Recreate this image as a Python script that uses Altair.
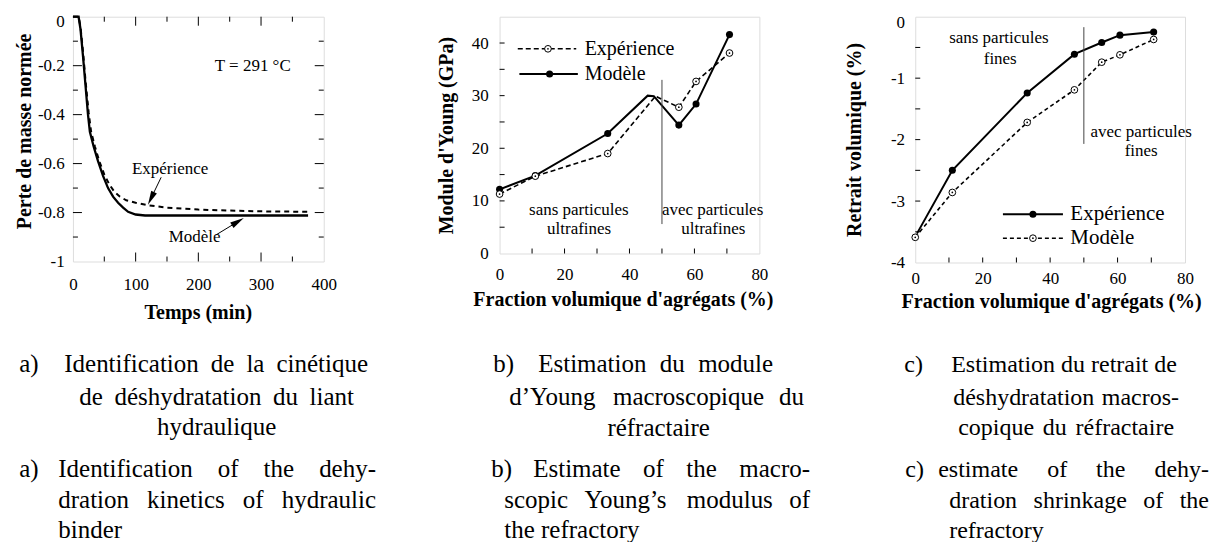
import altair as alt
import pandas as pd

FONT = "Liberation Serif"

# ---------------- panel a : dehydration kinetics ----------------
a_exp_t = [0, 9, 12, 16, 20, 25, 29, 35, 42, 50, 58, 66, 75, 85, 100, 120, 150, 200, 250, 300, 375]
a_exp_v = [0, 0, -0.04, -0.14, -0.26, -0.39, -0.47, -0.53, -0.59, -0.645, -0.685, -0.715,
           -0.735, -0.75, -0.76, -0.77, -0.78, -0.788, -0.792, -0.795, -0.797]
a_mod_t = [0, 9, 12, 16, 20, 24, 27, 33, 40, 48, 56, 64, 72, 80, 88, 100, 115, 375]
a_mod_v = [0, 0, -0.05, -0.16, -0.28, -0.40, -0.47, -0.53, -0.59, -0.65, -0.70, -0.735,
           -0.76, -0.78, -0.797, -0.808, -0.812, -0.812]
a_x_ticks = [0, 100, 200, 300, 400]
a_x_labels = ["0", "100", "200", "300", "400"]
a_y_ticks = [0, -0.2, -0.4, -0.6, -0.8, -1]
a_y_labels = ["0", "-0.2", "-0.4", "-0.6", "-0.8", "-1"]
a_x_major = [100, 200, 300]
a_x_minor = [50, 150, 250, 350]
a_y_major = [-0.2, -0.4, -0.6, -0.8]
a_y_minor = [-0.1, -0.3, -0.5, -0.7, -0.9]

# ---------------- panel b : Young's modulus ----------------
b_exp_x = [0, 11, 33.3, 48, 55.2, 60.5, 70.8]
b_exp_y = [11.3, 14.7, 19.0, 29.9, 27.8, 32.7, 38.1]
b_exp_px = [0, 11, 33.3, 55.2, 60.5, 70.8]
b_exp_py = [11.3, 14.7, 19.0, 27.8, 32.7, 38.1]
b_mod_x = [0, 11, 33.3, 45.6, 47.5, 55.2, 60.5, 70.8]
b_mod_y = [12.2, 14.8, 22.8, 30.0, 29.9, 24.4, 28.4, 41.6]
b_mod_px = [0, 11, 33.3, 55.2, 60.5, 70.8]
b_mod_py = [12.2, 14.8, 22.8, 24.4, 28.4, 41.6]
b_x_ticks = [0, 20, 40, 60, 80]
b_x_labels = ["0", "20", "40", "60", "80"]
b_y_ticks = [0, 10, 20, 30, 40]
b_y_labels = ["0", "10", "20", "30", "40"]
b_x_minor = [10, 20, 30, 40, 50, 60, 70]
b_y_minor = [5, 10, 15, 20, 25, 30, 35, 40]

# ---------------- panel c : volumetric shrinkage ----------------
c_exp_x = [0.5, 11, 33.2, 47.2, 55.3, 60.7, 70.7]
c_exp_y = [-3.53, -2.5, -1.24, -0.61, -0.42, -0.30, -0.25]
c_exp_px = [11, 33.2, 47.2, 55.3, 60.7, 70.7]
c_exp_py = [-2.5, -1.24, -0.61, -0.42, -0.30, -0.25]
c_mod_x = [0, 11, 33.2, 47.2, 55.3, 60.7, 70.7]
c_mod_y = [-3.59, -2.86, -1.72, -1.19, -0.74, -0.62, -0.37]
c_x_ticks = [0, 20, 40, 60, 80]
c_x_labels = ["0", "20", "40", "60", "80"]
c_y_ticks = [0, -1, -2, -3, -4]
c_y_labels = ["0", "-1", "-2", "-3", "-4"]
c_x_minor = [10, 20, 30, 40, 50, 60, 70]
c_y_minor = [-0.5, -1, -1.5, -2, -2.5, -3, -3.5]

# Times-compatible advance widths (per 1000 em) for caption justification
TW = {' ': 250, 'a': 444, 'b': 500, 'c': 444, 'd': 500, 'e': 444, 'f': 333, 'g': 500,
      'h': 500, 'i': 278, 'j': 278, 'k': 500, 'l': 278, 'm': 778, 'n': 500, 'o': 500,
      'p': 500, 'q': 500, 'r': 333, 's': 389, 't': 278, 'u': 500, 'v': 500, 'w': 722,
      'x': 500, 'y': 500, 'z': 444, '-': 333, ')': 333, '’': 333, 'Y': 722, 'I': 333,
      'E': 611, 'é': 444, 'è': 444}


def wwidth(w, fs):
    return sum(TW.get(ch, 500) for ch in w) / 1000.0 * fs


one = pd.DataFrame({"d": [0]})


def txt(text, x, y, fs, align="left"):
    return alt.Chart(one).mark_text(text=text, align=align, baseline="alphabetic",
                                    font=FONT, fontSize=fs,
                                    color="black").encode(x=alt.value(x), y=alt.value(y))


def caption(lines, ox, oy, fs):
    layers = []
    for words, left, right, y, mode in lines:
        yy = y - oy
        if mode == "label":
            layers.append(txt(words[0], left - ox, yy, fs))
        elif mode == "center":
            layers.append(txt(" ".join(words), (left + right) / 2 - ox, yy, fs, align="center"))
        elif mode == "left":
            layers.append(txt(" ".join(words), left - ox, yy, fs))
        else:  # justified
            widths = [wwidth(w, fs) for w in words]
            gap = (right - left - sum(widths)) / (len(words) - 1)
            if gap < 0.3 * fs:
                layers.append(txt(" ".join(words), left - ox, yy, fs))
                continue
            pos = left
            for i, w in enumerate(words):
                if i == len(words) - 1:
                    layers.append(txt(w, right - ox, yy, fs, align="right"))
                else:
                    layers.append(txt(w, pos - ox, yy, fs))
                pos += widths[i] + gap
    return layers


def lab_expr(vals, labs):
    expr = "''"
    for v, l in reversed(list(zip(vals, labs))):
        expr = f"abs(datum.value - ({v})) < 1e-6 ? '{l}' : {expr}"
    return expr


def xaxis(vals, labs, title, tx, ty, pad):
    return alt.Axis(values=vals, labelExpr=lab_expr(vals, labs), title=title,
                    titleFont=FONT, titleFontSize=20, titleFontWeight="bold", titleColor="black",
                    titleX=tx, titleY=ty, titleAlign="center", titleBaseline="alphabetic",
                    labelFont=FONT, labelFontSize=17, labelColor="black", labelPadding=pad,
                    labelBaseline="alphabetic", labelFlush=False, labelOverlap=False,
                    ticks=False, tickSize=0, domain=False, grid=False)


def yaxis(vals, labs, title, tx, ty, pad, top_off):
    return alt.Axis(values=vals, labelExpr=lab_expr(vals, labs), title=title,
                    titleFont=FONT, titleFontSize=20, titleFontWeight="bold", titleColor="black",
                    titleX=tx, titleY=ty, titleAngle=270, titleAlign="center",
                    titleBaseline="alphabetic",
                    labelFont=FONT, labelFontSize=17, labelColor="black", labelPadding=pad,
                    labelOffset={"condition": {"test": "datum.value == 0", "value": top_off},
                                 "value": 0},
                    labelFlush=False, labelOverlap=False,
                    ticks=False, tickSize=0, domain=False, grid=False)


class Panel:
    """Holds the shared scales/axes of one panel so every layer uses the same definitions."""

    def __init__(self, xdom, ydom, xax, yax, W, H):
        self.xdom, self.ydom, self.xax, self.yax, self.W, self.H = xdom, ydom, xax, yax, W, H

    def X(self, f):
        return alt.X(f"{f}:Q", scale=alt.Scale(domain=self.xdom, nice=False, zero=False),
                     axis=self.xax)

    def Y(self, f):
        return alt.Y(f"{f}:Q", scale=alt.Scale(domain=self.ydom, nice=False, zero=False),
                     axis=self.yax)

    def line(self, xs, ys, dash=None, width=2.0):
        kw = dict(color="black", strokeWidth=width)
        if dash:
            kw["strokeDash"] = dash
        return alt.Chart(pd.DataFrame({"x": xs, "y": ys})).mark_line(**kw).encode(
            x=self.X("x"), y=self.Y("y"))

    def filled(self, xs, ys, size=50):
        return alt.Chart(pd.DataFrame({"x": xs, "y": ys})).mark_point(
            shape="circle", filled=True, color="black", opacity=1, size=size).encode(
            x=self.X("x"), y=self.Y("y"))

    def hollow(self, xs, ys, size=45):
        df = pd.DataFrame({"x": xs, "y": ys})
        ring = alt.Chart(df).mark_point(shape="circle", filled=True, fill="white", stroke="black",
                                        strokeWidth=1, opacity=1, size=size).encode(
            x=self.X("x"), y=self.Y("y"))
        dot = alt.Chart(df).mark_point(shape="circle", filled=True, color="black", opacity=1,
                                       size=3).encode(x=self.X("x"), y=self.Y("y"))
        return [ring, dot]

    def label(self, items, size, align="center"):
        df = pd.DataFrame(items, columns=["x", "y", "t"])
        return alt.Chart(df).mark_text(font=FONT, fontSize=size, color="black", align=align,
                                       baseline="middle").encode(
            x=self.X("x"), y=self.Y("y"), text="t:N")

    def segs(self, items, width=1.0, color="black", dash=None):
        df = pd.DataFrame(items, columns=["x", "y", "x2", "y2"])
        kw = dict(color=color, strokeWidth=width)
        if dash:
            kw["strokeDash"] = dash
        return alt.Chart(df).mark_rule(**kw).encode(
            x=self.X("x"), y=self.Y("y"), x2="x2:Q", y2="y2:Q")

    def ticks(self, xmaj, xmin, ymaj, ymin, mirror):
        W, H = self.W, self.H
        layers = []
        for vals, L in ((xmaj, 9), (xmin, 5)):
            if not vals:
                continue
            base = alt.Chart(pd.DataFrame({"v": vals})).mark_rule(color="black", strokeWidth=1)
            layers.append(base.encode(x=self.X("v"), y=alt.value(H), y2=alt.value(H - L)))
            if mirror:
                layers.append(base.encode(x=self.X("v"), y=alt.value(0), y2=alt.value(L)))
        for vals, L in ((ymaj, 9), (ymin, 5)):
            if not vals:
                continue
            base = alt.Chart(pd.DataFrame({"v": vals})).mark_rule(color="black", strokeWidth=1)
            layers.append(base.encode(y=self.Y("v"), x=alt.value(0), x2=alt.value(L)))
            if mirror:
                layers.append(base.encode(y=self.Y("v"), x=alt.value(W), x2=alt.value(W - L)))
        return layers


# ---------- panel a ----------
AW, AH = 251, 245
AOX, AOY = 71.7, 15.7
A = Panel([0, 400], [-1, 0],
          xaxis(a_x_ticks, a_x_labels, "Temps (min)", 125, 57.2, 28.5),
          yaxis(a_y_ticks, a_y_labels, "Perte de masse normée", -42.1, 114.3, 8.7, 5), AW, AH)
pa_layers = [
    A.line(a_mod_t, a_mod_v, width=2.3),
    A.line(a_exp_t, a_exp_v, dash=[5, 4], width=2.0),
    A.label([(286.8, -0.201, "T = 291 °C"), (155, -0.621, "Expérience"), (194, -0.90, "Modèle")], 17),
    A.segs([(140.7, -0.656, 124.5, -0.742), (228.4, -0.891, 263, -0.837)], width=1.0),
]
arrow_heads = pd.DataFrame({"x": [124.5, 263], "y": [-0.742, -0.837], "ang": [205.9, 58.5]})
pa_layers.append(alt.Chart(arrow_heads).mark_point(
    shape="M0,-1L0.45,1L-0.45,1Z", filled=True, color="black", opacity=1, size=196).encode(
    x=A.X("x"), y=A.Y("y"), angle=alt.Angle("ang:Q", scale=None)))
pa_layers += A.ticks(a_x_major, a_x_minor, a_y_major, a_y_minor, True)
pa_layers += caption([
    (["a)"], 18, 0, 371, "label"),
    (["Identification", "de", "la", "cinétique"], 63, 367, 371, "just"),
    (["de", "déshydratation", "du", "liant"], 78, 353, 404, "just"),
    (["hydraulique"], 153, 278, 434.5, "center"),
    (["a)"], 18, 0, 476, "label"),
    (["Identification", "of", "the", "dehy-"], 57, 375, 476, "just"),
    (["dration", "kinetics", "of", "hydraulic"], 57, 375, 507, "just"),
    (["binder"], 57, 0, 537, "left"),
], AOX, AOY, 25)
panel_a = alt.layer(*pa_layers).properties(width=AW, height=AH)

# ---------- panel b ----------
BW, BH = 260, 237
BOX, BOY = 498.3, 15.0
B = Panel([0, 80], [0, 45],
          xaxis(b_x_ticks, b_x_labels, "Fraction volumique d'agrégats (%)", 123.4, 51.7, 26.0),
          yaxis(b_y_ticks, b_y_labels, "Module d'Young (GPa)", -46.7, 118.5, 11.3, 0), BW, BH)
pb_layers = [
    B.line(b_mod_x, b_mod_y, width=2.0),
    B.line(b_exp_x, b_exp_y, dash=[5, 3], width=1.6),
    B.segs([(50, 5.6, 50, 33)], width=1.0, color="#444444"),
    B.segs([(5.6, 38.9, 23.6, 38.9)], width=1.6, dash=[5, 3]),
    B.segs([(6.1, 34.1, 24.1, 34.1)], width=2.0),
    B.filled(b_mod_px + [15.4], b_mod_py + [34.1]),
]
pb_layers += B.hollow(b_exp_px + [14.9], b_exp_py + [38.9])
pb_layers += [
    B.label([(26.2, 38.9, "Expérience"), (26.2, 34.1, "Modèle")], 20, align="left"),
    B.label([(24.4, 8.2, "sans particules"), (24.5, 4.6, "ultrafines"),
             (65.6, 8.2, "avec particules"), (65.8, 4.6, "ultrafines")], 17),
]
pb_layers += B.ticks([], b_x_minor, [], b_y_minor, False)
pb_layers += caption([
    (["b)"], 492, 0, 371, "label"),
    (["Estimation", "du", "module"], 537, 772, 371, "just"),
    (["d’Young", "macroscopique", "du"], 508, 803, 404, "just"),
    (["réfractaire"], 605, 710, 434.5, "center"),
    (["b)"], 490, 0, 476, "label"),
    (["Estimate", "of", "the", "macro-"], 532, 809, 476, "just"),
    (["scopic", "Young’s", "modulus", "of"], 503, 809, 507, "just"),
    (["the", "refractory"], 503, 0, 537, "left"),
], BOX, BOY, 25)
panel_b = alt.layer(*pb_layers).properties(width=BW, height=BH)

# ---------- panel c ----------
CW, CH = 270, 246
COX, COY = 914, 15.7
C = Panel([0, 80], [-4, 0],
          xaxis(c_x_ticks, c_x_labels, "Fraction volumique d'agrégats (%)", 136, 44.8, 20.9),
          yaxis(c_y_ticks, c_y_labels, "Retrait volumique (%)", -54.4, 122.8, 10.7, 6), CW, CH)
pc_layers = [
    C.line(c_exp_x, c_exp_y, width=2.0),
    C.line(c_mod_x, c_mod_y, dash=[4, 3], width=1.6),
    C.segs([(50, -0.17, 50, -2.07)], width=1.0, color="#444444"),
    C.segs([(26, -3.214, 43.8, -3.214)], width=2.0),
    C.segs([(26, -3.604, 43.8, -3.604)], width=1.6, dash=[4, 3]),
    C.filled(c_exp_px + [34.9], c_exp_py + [-3.214]),
]
pc_layers += C.hollow(c_mod_x + [34.9], c_mod_y + [-3.604])
pc_layers += [
    C.label([(46, -3.214, "Expérience"), (46, -3.604, "Modèle")], 21, align="left"),
    C.label([(24.8, -0.341, "sans particules"), (25.2, -0.694, "fines"),
             (67, -1.87, "avec particules"), (67, -2.18, "fines")], 17),
]
pc_layers += C.ticks([], c_x_minor, [], c_y_minor, False)
pc_layers += caption([
    (["c)"], 903, 0, 371, "label"),
    (["Estimation", "du", "retrait", "de"], 950, 1163, 371, "just"),
    (["déshydratation", "macros-"], 952, 1178, 404, "just"),
    (["copique", "du", "réfractaire"], 957, 1173, 434.5, "just"),
    (["c)"], 904, 0, 476, "label"),
    (["estimate", "of", "the", "dehy-"], 937, 1208, 476, "just"),
    (["dration", "shrinkage", "of", "the"], 948, 1208, 507, "just"),
    (["refractory"], 948, 0, 537, "left"),
], COX, COY, 24)
panel_c = alt.layer(*pc_layers).properties(width=CW, height=CH)


def spacer(w):
    return alt.Chart(one).mark_point(opacity=0).encode(
        x=alt.X("d:Q", axis=None), y=alt.Y("d:Q", axis=None)).properties(
        width=w, height=1, view=alt.ViewBackground(strokeOpacity=0))


chart = alt.hconcat(panel_a, spacer(BOX - (AOX + AW)), panel_b, spacer(COX - (BOX + BW)), panel_c,
                    spacing=0, bounds="flush").properties(
    padding={"left": 6, "top": 2.5, "right": 0, "bottom": 0},
    background="white",
).configure_view(stroke="black", strokeWidth=1.3).configure(font=FONT)

chart.save("out.html", embed_options={"renderer": "svg", "actions": False})
